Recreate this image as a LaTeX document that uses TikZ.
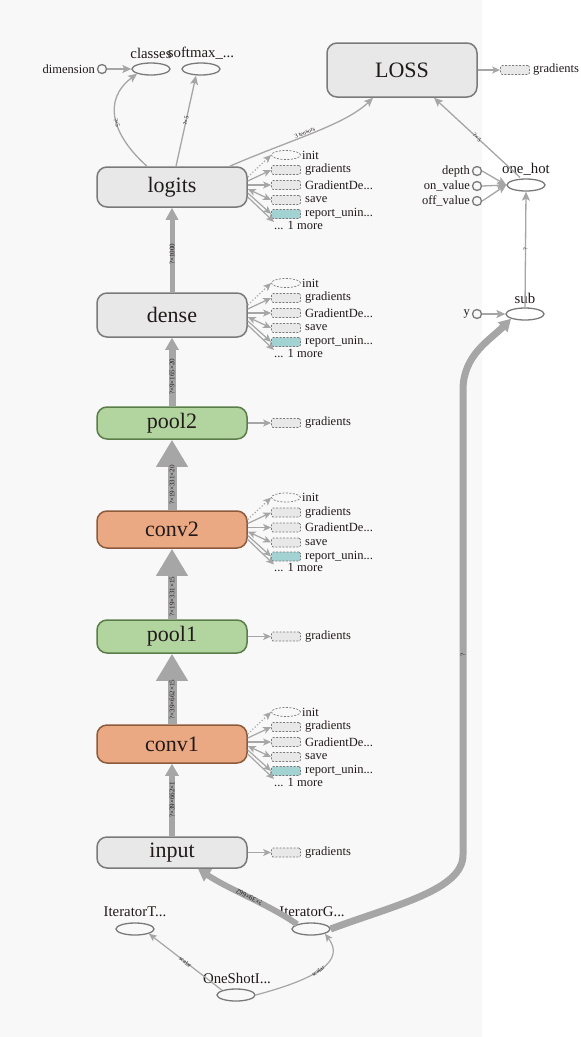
\documentclass[tikz,border=0pt]{standalone}
\usepackage{fontspec}
\setmainfont{Liberation Serif}
\usetikzlibrary{arrows.meta,shapes.geometric,calc}
\definecolor{edgegray}{HTML}{A6A6A6}
\definecolor{boxgray}{HTML}{E8E8E8}
\definecolor{boxline}{HTML}{7A7A7A}
\definecolor{poolfill}{HTML}{B2D5A0}
\definecolor{poolline}{HTML}{5B7D49}
\definecolor{convfill}{HTML}{EAA883}
\definecolor{convline}{HTML}{8C5B3E}
\definecolor{tealfill}{HTML}{A3D2D2}
\definecolor{panel}{HTML}{F8F8F8}
\definecolor{txt}{HTML}{221A1A}
\newcommand{\auxset}[2]{%
\node[auxell] (#1i) at (286,{#2-32}) {};
\node[sidelbl,anchor=west] (#1it) at (301,{#2-32}) {init};
\node[auxbox] (#1g) at (286,{#2-17}) {};
\node[sidelbl,anchor=west] (#1gt) at (304,{#2-17}) {gradients};
\node[auxbox] (#1d) at (286,{#2-2}) {};
\node[sidelbl,anchor=west] (#1dt) at (304,{#2-2}) {GradientDe...};
\node[auxbox] (#1s) at (286,{#2+13}) {};
\node[sidelbl,anchor=west] (#1st) at (304,{#2+13}) {save};
\node[auxbox,fill=tealfill] (#1r) at (286,{#2+27}) {};
\node[sidelbl,anchor=west] (#1rt) at (304,{#2+27}) {report\_unin...};
\node[sidelbl,anchor=west] (#1m) at (273,{#2+38}) {... 1 more};
\draw[auxarrow,dotted] ($(#1.east)+(0,-10)$) -- (#1i.west);
\draw[auxarrow] ($(#1.east)+(0,-6)$) -- (#1g.west);
\draw[auxarrow] ($(#1.east)+(0,-2)$) -- (#1d.west);
\draw[auxarrow,{Stealth[length=8pt,width=7pt,inset=2pt]}-{Stealth[length=8pt,width=7pt,inset=2pt]}] ($(#1.east)+(0,2)$) -- (#1s.west);
\draw[auxarrow] ($(#1.east)+(0,6)$) -- (#1r.west);
\draw[auxarrow] ($(#1.east)+(0,10)$) -- ($(#1m.west)+(1,-3)$);
}
\newcommand{\gradset}[1]{%
\node[auxbox] (#1g) at (286,0 |- #1.east) {};
\node[sidelbl,anchor=west] (#1gt) at ($(#1g.east)+(3,0)$) {gradients};
\draw[auxarrow] (#1.east) -- (#1g.west);
}
\begin{document}
\begin{tikzpicture}[x=1pt,y=-1pt,
 mainbox/.style={rectangle, rounded corners=10pt, draw=boxline, line width=1.5pt, fill=boxgray, minimum width=150pt, inner sep=0pt, font=\fontsize{22}{24}\selectfont, text=txt},
 poolbox/.style={mainbox, fill=poolfill, draw=poolline},
 convbox/.style={mainbox, fill=convfill, draw=convline},
 opnode/.style={ellipse, draw=boxline, line width=1.3pt, minimum width=38pt, minimum height=12pt, inner sep=0pt},
 constnode/.style={circle, draw=boxline, line width=1.3pt, minimum size=9pt, inner sep=0pt},
 auxbox/.style={rectangle, rounded corners=1.5pt, draw=boxline, line width=0.7pt, dash pattern=on 2pt off 1.5pt, fill=boxgray, minimum width=29pt, minimum height=9pt, inner sep=0pt},
 auxell/.style={ellipse, draw=boxline, line width=0.7pt, dash pattern=on 2pt off 1.5pt, minimum width=29pt, minimum height=9pt, inner sep=0pt},
 sidelbl/.style={font=\fontsize{12.5}{13}\selectfont, text=txt, inner sep=1pt},
 oplbl/.style={font=\fontsize{14.8}{15}\selectfont, text=txt, inner sep=0pt},
 elbl/.style={font=\fontsize{7}{7}\selectfont, text=txt, inner sep=0pt},
 auxarrow/.style={draw=edgegray, line width=1.2pt, -{Stealth[length=8pt,width=7pt,inset=2pt]}},
 flowarrow/.style={draw=edgegray, line width=1.3pt, -{Stealth[length=9pt,width=8pt,inset=2pt]}}
]
\useasboundingbox (0,0) rectangle (581,1037);
\fill[white] (0,0) rectangle (581,1037);
\fill[panel] (0,0) rectangle (482,1037);

% main column
\node[mainbox, minimum height=40pt] (logits) at (172,187) {logits};
\node[mainbox, minimum height=44pt] (dense) at (172,315) {dense};
\node[poolbox, minimum height=32pt] (pool2) at (172,423) {pool2};
\node[convbox, minimum height=37pt] (conv2) at (172,529.5) {conv2};
\node[poolbox, minimum height=33pt] (pool1) at (172,636.5) {pool1};
\node[convbox, minimum height=38pt] (conv1) at (172,744) {conv1};
\node[mainbox, minimum height=31pt] (input) at (172,852.5) {input};
\node[mainbox, minimum height=54pt] (loss) at (402,70) {LOSS};

% column edges
\draw[draw=edgegray, line width=5.5pt, -{Triangle[length=12pt,width=13pt]}] (input.north) -- (conv1.south) node[elbl, pos=0.5, rotate=90] {?×39×662×1};
\draw[draw=edgegray, line width=9pt, -{Triangle[length=27pt,width=30pt]}] (conv1.north) -- (pool1.south) node[elbl, pos=0.35, rotate=90] {?×39×662×15};
\draw[draw=edgegray, line width=9pt, -{Triangle[length=27pt,width=30pt]}] (pool1.north) -- (conv2.south) node[elbl, pos=0.32, rotate=90] {?×19×331×15};
\draw[draw=edgegray, line width=9pt, -{Triangle[length=27pt,width=30pt]}] (conv2.north) -- (pool2.south) node[elbl, pos=0.36, rotate=90] {?×19×331×20};
\draw[draw=edgegray, line width=7pt, -{Triangle[length=12pt,width=13pt]}] (pool2.north) -- (dense.south) node[elbl, pos=0.43, rotate=90] {?×9×165×20};
\draw[draw=edgegray, line width=5pt, -{Triangle[length=12pt,width=12pt]}] (dense.north) -- (logits.south) node[elbl, pos=0.45, rotate=90] {?×1000};

% side clusters
\auxset{logits}{187}
\auxset{dense}{315}
\auxset{conv2}{529.5}
\auxset{conv1}{744}
\gradset{pool2}
\gradset{pool1}
\gradset{input}
\node[auxbox] (lossg) at (515,70) {};
\node[sidelbl,anchor=west] (lossgt) at (532,70) {gradients};
\draw[auxarrow] (loss.east) -- (lossg.west);

% top-left ops
\node[constnode] (dimc) at (102,69) {};
\node[sidelbl,anchor=east] (diml) at (96,69) {dimension};
\node[opnode] (classes) at (151,69) {};
\node[opnode] (softmax) at (201,69) {};
\node[oplbl] (classesl) at (151,53) {classes};
\node[oplbl] (softmaxl) at (201,53) {softmax\_...};
\draw[flowarrow] (dimc.east) -- (classes.west);
\draw[flowarrow] ($(logits.north)+(-25,0)$) .. controls (112,135) and (102,100) .. (classes.south west) node[elbl, pos=0.45, sloped, font=\fontsize{6}{6}\selectfont] {?×5};
\draw[flowarrow] ($(logits.north)+(4,0)$) -- ($(softmax.south)+(-5,0)$) node[elbl, pos=0.5, sloped, font=\fontsize{6}{6}\selectfont] {?×5};
\draw[flowarrow] ($(logits.north east)+(-18,0)$) .. controls (290,140) and (345,125) .. ($(loss.south)+(-29,0)$) node[elbl, pos=0.45, sloped, above=0.5pt, font=\fontsize{6}{6}\selectfont] {3 tensors};

% right ops
\node[opnode] (onehot) at (526,185) {};
\node[oplbl] (onehotl) at (526,169) {one\_hot};
\node[constnode] (depth) at (477,171) {};
\node[constnode] (onv) at (477,186) {};
\node[constnode] (offv) at (477,201) {};
\node[sidelbl,anchor=east] (depthl) at (471,171) {depth};
\node[sidelbl,anchor=east] (onvl) at (471,186) {on\_value};
\node[sidelbl,anchor=east] (offvl) at (471,201) {off\_value};
\draw[flowarrow] (depth.east) -- (onehot.west);
\draw[flowarrow] (onv.east) -- (onehot.west);
\draw[flowarrow] (offv.east) -- (onehot.west);
\draw[flowarrow] ($(onehot.north)+(-6,-1)$) -- ($(loss.south)+(32,0)$) node[elbl, pos=0.5, sloped, font=\fontsize{6}{6}\selectfont] {?×5};

\node[opnode] (sub) at (525,314) {};
\node[oplbl] (subl) at (525,298) {sub};
\node[constnode] (yc) at (477,314) {};
\node[sidelbl,anchor=east] (yl) at (471,314) {y};
\draw[flowarrow] (yc.east) -- (sub.west);
\draw[flowarrow] (sub.north) -- (onehot.south) node[elbl, pos=0.5, sloped, font=\fontsize{6}{6}\selectfont] {?};

% bottom ops
\node[opnode] (iterg) at (311,929) {};
\node[oplbl] (itergl) at (312,912) {IteratorG...};
\node[opnode] (itert) at (135,929) {};
\node[oplbl] (itertl) at (135,912) {IteratorT...};
\node[opnode] (oneshot) at (236,995) {};
\node[oplbl] (oneshotl) at (237,978) {OneShotI...};

\draw[draw=edgegray, line width=1.2pt, -{Stealth[length=8pt,width=7pt,inset=2pt]}] (oneshot.north west) -- (itert.south east) node[elbl, pos=0.5, sloped, font=\fontsize{6}{6}\selectfont] {scalar};
\draw[draw=edgegray, line width=1.2pt, -{Stealth[length=8pt,width=7pt,inset=2pt]}] (oneshot.east) .. controls (320,978) and (345,960) .. (iterg.south east) node[elbl, pos=0.45, sloped, font=\fontsize{6}{6}\selectfont] {scalar};

\draw[draw=edgegray, line width=6pt, -{Triangle[length=12pt,width=14pt]}] (iterg.north west) .. controls (270,905) and (230,890) .. ($(input.south)+(26,0)$) node[elbl, pos=0.5, sloped, allow upside down] {?×39×662};
\draw[draw=edgegray, line width=7pt, line join=round, -{Triangle[length=12pt,width=13pt]}] (iterg.east) .. controls (395,905) and (463,890) .. (463,855) -- (463,390) .. controls (463,355) and (490,340) .. (sub.south west);
\node[elbl, rotate=90] (subq) at (463,655) {?};
\end{tikzpicture}
\end{document}
